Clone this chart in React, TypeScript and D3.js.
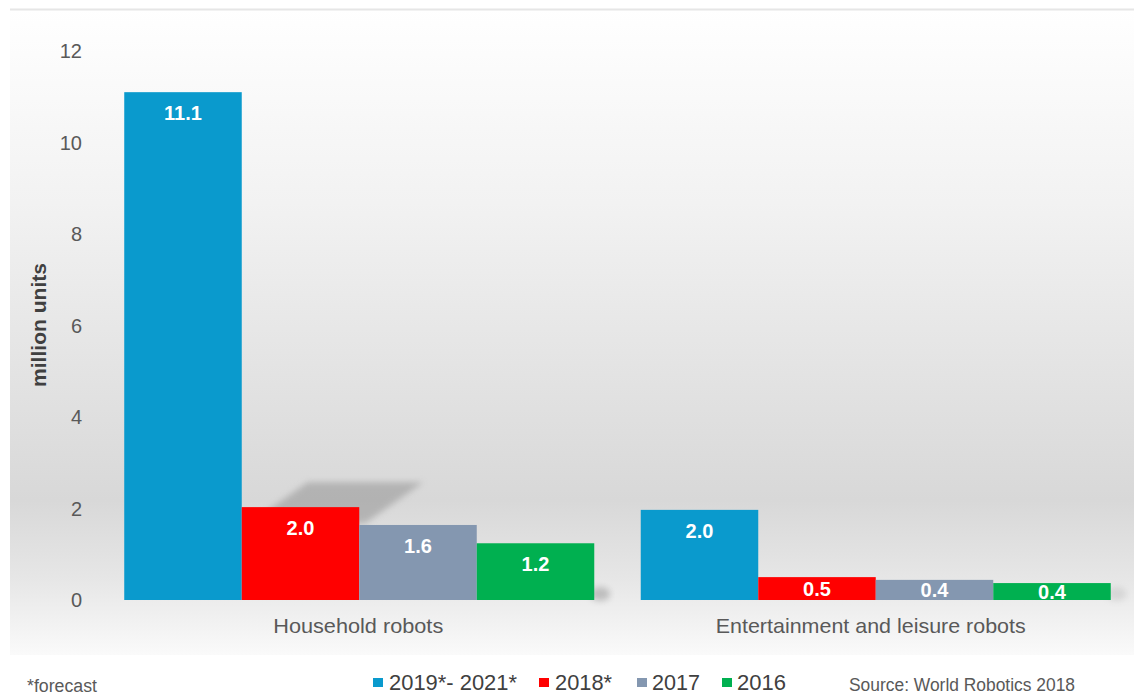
import React from "react";
import * as d3 from "d3";

const categories = ["Household robots", "Entertainment and leisure robots"];
const seriesNames = ["2019*- 2021*", "2018*", "2017", "2016"];
const seriesColors = ["#0a9acd", "#ff0000", "#8497b0", "#00b050"];
const householdValues = [11.1, 2.03, 1.64, 1.24];
const entertainmentValues = [1.97, 0.5, 0.44, 0.37];
const yTicks = [0, 2, 4, 6, 8, 10, 12];

const W = 1134;
const H = 700;

export default function App() {
  const values = [householdValues, entertainmentValues];
  const y = d3.scaleLinear().domain([0, 12]).range([600, 51]);
  const x0 = d3
    .scaleBand<string>()
    .domain(categories)
    .range([101, 1134])
    .paddingInner(0.09)
    .paddingOuter(0.045);
  const x1 = d3
    .scaleBand<string>()
    .domain(seriesNames)
    .range([0, x0.bandwidth()])
    .padding(0);
  const fmt = d3.format(".1f");
  const font = "'Liberation Sans', Arial, sans-serif";

  // shadow for the household 2018 bar
  const hx = (x0(categories[0]) ?? 0) + (x1(seriesNames[1]) ?? 0);
  const hx1 = hx + x1.bandwidth();
  const ht = y(householdValues[1]);
  const shadowPts = [
    [hx + 8, ht + 16],
    [hx + 66, ht - 25],
    [hx1 + 64, ht - 25],
    [hx1 + 6, ht + 16],
  ]
    .map((p) => p.join(","))
    .join(" ");

  const legendItems = [
    { sq: 373, tx: 389, w: 128 },
    { sq: 539, tx: 555, w: 57 },
    { sq: 637, tx: 652, w: 48 },
    { sq: 722, tx: 737, w: 49 },
  ];
  const catLabel = [
    { dx: -1, w: 170 },
    { dx: -5, w: 310 },
  ];

  return (
    <svg
      width={W}
      height={H}
      style={{ position: "absolute", left: 0, top: 0, fontFamily: font }}
    >
      <defs>
        <linearGradient id="bg" x1="0" y1="0" x2="0" y2="1">
          <stop offset="0" stopColor="#ffffff" />
          <stop offset="0.3" stopColor="#f2f2f2" />
          <stop offset="0.76" stopColor="#d8d8d8" />
          <stop offset="0.88" stopColor="#e6e6e6" />
          <stop offset="1" stopColor="#fafafa" />
        </linearGradient>
        <filter id="blur" x="-20%" y="-50%" width="140%" height="200%">
          <feGaussianBlur stdDeviation="3" />
        </filter>
      </defs>
      <rect x={0} y={0} width={W} height={H} fill="#ffffff" />
      <rect x={10} y={9} width={W - 10} height={646} fill="url(#bg)" />
      <line x1={10} x2={W} y1={9.5} y2={9.5} stroke="#e6e6e6" strokeWidth={2} />

      {/* shadows */}
      <polygon points={shadowPts} fill="#9a9a9a" opacity={0.6} filter="url(#blur)" />
      {categories.map((c, ci) => {
        const gx = (x0(c) ?? 0) + x0.bandwidth();
        return (
          <ellipse
            key={"sh" + c}
            cx={gx + 6}
            cy={y(0) - 6}
            rx={10}
            ry={7}
            fill="#888"
            opacity={ci === 0 ? 0.45 : 0.2}
            filter="url(#blur)"
          />
        );
      })}

      {/* y ticks */}
      {yTicks.map((t) => (
        <text
          key={t}
          x={82}
          y={y(t)}
          dy="0.35em"
          textAnchor="end"
          fontSize={20}
          fill="#595959"
        >
          {t}
        </text>
      ))}
      <text
        transform={`translate(46,325) rotate(-90)`}
        textAnchor="middle"
        fontSize={20}
        fontWeight="bold"
        fill="#404040"
        textLength={124}
        lengthAdjust="spacingAndGlyphs"
      >
        million units
      </text>

      {/* bars */}
      {categories.map((c, ci) => (
        <g key={c} transform={`translate(${x0(c)},0)`}>
          {seriesNames.map((s, si) => {
            const v = values[ci][si];
            const top = y(v);
            const h = y(0) - top;
            const bx = x1(s) ?? 0;
            const ly = h > 40 ? top + 28 : (top + y(0)) / 2 + 7;
            return (
              <g key={s}>
                <rect
                  x={bx}
                  y={top}
                  width={x1.bandwidth()}
                  height={h}
                  fill={seriesColors[si]}
                />
                <text
                  x={bx + x1.bandwidth() / 2}
                  y={ly}
                  textAnchor="middle"
                  fontSize={20}
                  fontWeight="bold"
                  fill="#ffffff"
                >
                  {fmt(v)}
                </text>
              </g>
            );
          })}
          <text
            x={x0.bandwidth() / 2 + catLabel[ci].dx}
            y={633}
            textAnchor="middle"
            fontSize={21}
            fill="#595959"
            textLength={catLabel[ci].w}
            lengthAdjust="spacingAndGlyphs"
          >
            {c}
          </text>
        </g>
      ))}

      {/* footer */}
      <text x={27} y={692} fontSize={18} fill="#595959" textLength={70} lengthAdjust="spacingAndGlyphs">
        *forecast
      </text>
      {seriesNames.map((s, i) => (
        <g key={"lg" + s}>
          <rect x={legendItems[i].sq} y={678} width={10} height={9} fill={seriesColors[i]} />
          <text
            x={legendItems[i].tx}
            y={690}
            fontSize={22}
            fill="#404040"
            textLength={legendItems[i].w}
            lengthAdjust="spacingAndGlyphs"
          >
            {s}
          </text>
        </g>
      ))}
      <text
        x={849}
        y={691}
        fontSize={18}
        fill="#595959"
        textLength={226}
        lengthAdjust="spacingAndGlyphs"
      >
        Source: World Robotics 2018
      </text>
    </svg>
  );
}
